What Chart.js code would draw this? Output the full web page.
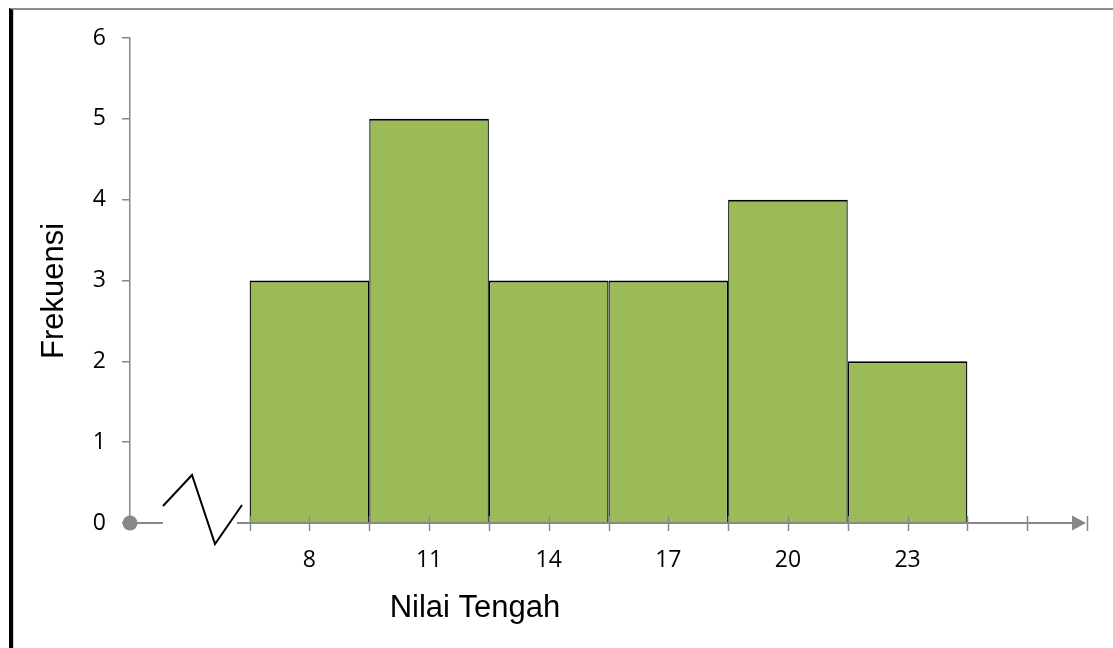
<!DOCTYPE html>
<html>
<head>
<meta charset="utf-8">
<script src="https://cdn.jsdelivr.net/npm/chart.js@4.4.1/dist/chart.umd.min.js"></script>
<style>
  html, body { margin: 0; padding: 0; background: #fff; }
  #wrap { position: relative; width: 1113px; height: 648px; overflow: hidden; }
  #c { position: absolute; left: 0; top: 0; }
  #frame {
    position: absolute; left: 9px; top: 8px; right: -4px; bottom: -4px;
    border-left: 4px solid #000; border-top: 2px solid #8c8c8c;
    box-shadow: inset 1px 0 0 #cfcfcf; pointer-events: none;
  }
</style>
</head>
<body>
<div id="wrap">
  <canvas id="c" width="1113" height="648"></canvas>
  <div id="frame"></div>
</div>
<script>
// Class midpoints and their frequencies
const categories = [8, 11, 14, 17, 20, 23];
const frequencies = [3, 5, 3, 3, 4, 2];

// Axis ticks
const yTicks = [0, 1, 2, 3, 4, 5, 6];
const xTickMarks = [6.5, 8, 9.5, 11, 12.5, 14, 15.5, 17, 18.5, 20, 21.5, 23, 24.5, 26, 27.5];

const xTitle = 'Nilai Tengah';
const yTitle = 'Frekuensi';

const AXIS_GREY = '#888888';
const TICK_FONT = { family: "'Open Sans', sans-serif", size: 23 };
const TITLE_FONT = "31px 'Liberation Sans', Arial, sans-serif";

// Draws the broken x axis with arrow, the origin dot and the axis titles
const axisDecor = {
  id: 'axisDecor',
  afterDraw(chart) {
    const { ctx } = chart;
    const xs = chart.scales.x, ys = chart.scales.y;
    const y0 = ys.getPixelForValue(0);
    const left = xs.left, right = xs.right;

    ctx.save();
    ctx.strokeStyle = AXIS_GREY;
    ctx.lineWidth = 2;
    ctx.lineCap = 'butt';

    // axis line: short stub, gap for the break, then the rest up to the arrow
    ctx.beginPath();
    ctx.moveTo(left, y0);
    ctx.lineTo(left + 33, y0);
    ctx.moveTo(left + 107, y0);
    ctx.lineTo(right - 14, y0);
    ctx.stroke();

    // tick marks crossing the axis
    ctx.lineWidth = 1.5;
    ctx.beginPath();
    xTickMarks.forEach(v => {
      const px = Math.round(xs.getPixelForValue(v)) + 0.5;
      ctx.moveTo(px, y0 - 7);
      ctx.lineTo(px, y0 + 8);
    });
    ctx.stroke();

    // arrow head
    ctx.fillStyle = AXIS_GREY;
    ctx.beginPath();
    ctx.moveTo(right - 1, y0);
    ctx.lineTo(right - 15, y0 - 7.5);
    ctx.lineTo(right - 15, y0 + 7.5);
    ctx.closePath();
    ctx.fill();

    // origin dot
    ctx.beginPath();
    ctx.arc(left, y0, 7.5, 0, Math.PI * 2);
    ctx.fill();

    // axis break zigzag
    ctx.strokeStyle = '#000';
    ctx.lineWidth = 2;
    ctx.lineJoin = 'miter';
    ctx.beginPath();
    ctx.moveTo(left + 33, y0 - 17);
    ctx.lineTo(left + 62, y0 - 48);
    ctx.lineTo(left + 85, y0 + 21);
    ctx.lineTo(left + 112, y0 - 18);
    ctx.stroke();

    // axis titles
    ctx.fillStyle = '#000';
    ctx.font = TITLE_FONT;
    ctx.textAlign = 'center';
    ctx.textBaseline = 'middle';
    ctx.fillText(xTitle, 475, 608);
    ctx.translate(54, 291);
    ctx.rotate(-Math.PI / 2);
    ctx.fillText(yTitle, 0, 0);
    ctx.restore();
  }
};

new Chart(document.getElementById('c'), {
  type: 'bar',
  data: {
    datasets: [{
      data: categories.map((c, i) => ({ x: c, y: frequencies[i] })),
      backgroundColor: '#9BBB59',
      borderColor: '#000000',
      borderWidth: { top: 2, left: 1.3, right: 1.3, bottom: 0 },
      borderSkipped: 'bottom',
      barPercentage: 1.0,
      categoryPercentage: 2.0
    }]
  },
  options: {
    responsive: false,
    animation: false,
    devicePixelRatio: 1,
    layout: { padding: { top: 38, right: 26, left: 0, bottom: 0 } },
    plugins: { legend: { display: false }, tooltip: { enabled: false } },
    scales: {
      x: {
        type: 'linear',
        offset: false,
        min: 3.5,
        max: 27.5,
        afterFit(s) { s.height = 125; },
        afterBuildTicks(s) { s.ticks = xTickMarks.map(v => ({ value: v })); },
        border: { display: false },
        grid: { display: false, drawTicks: true, tickLength: 8 },
        ticks: {
          autoSkip: false,
          maxRotation: 0,
          padding: 16,
          color: '#000',
          font: TICK_FONT,
          callback: v => (categories.includes(v) ? String(v) : '')
        }
      },
      y: {
        min: 0,
        max: 6,
        afterFit(s) { s.width = 130; },
        afterBuildTicks(s) { s.ticks = yTicks.map(v => ({ value: v })); },
        border: { display: true, color: AXIS_GREY, width: 1.5 },
        grid: { drawOnChartArea: false, drawTicks: true, tickLength: 8, color: AXIS_GREY, lineWidth: 1.5 },
        ticks: { padding: 16, color: '#000', font: TICK_FONT }
      }
    }
  },
  plugins: [axisDecor]
});
</script>
</body>
</html>
